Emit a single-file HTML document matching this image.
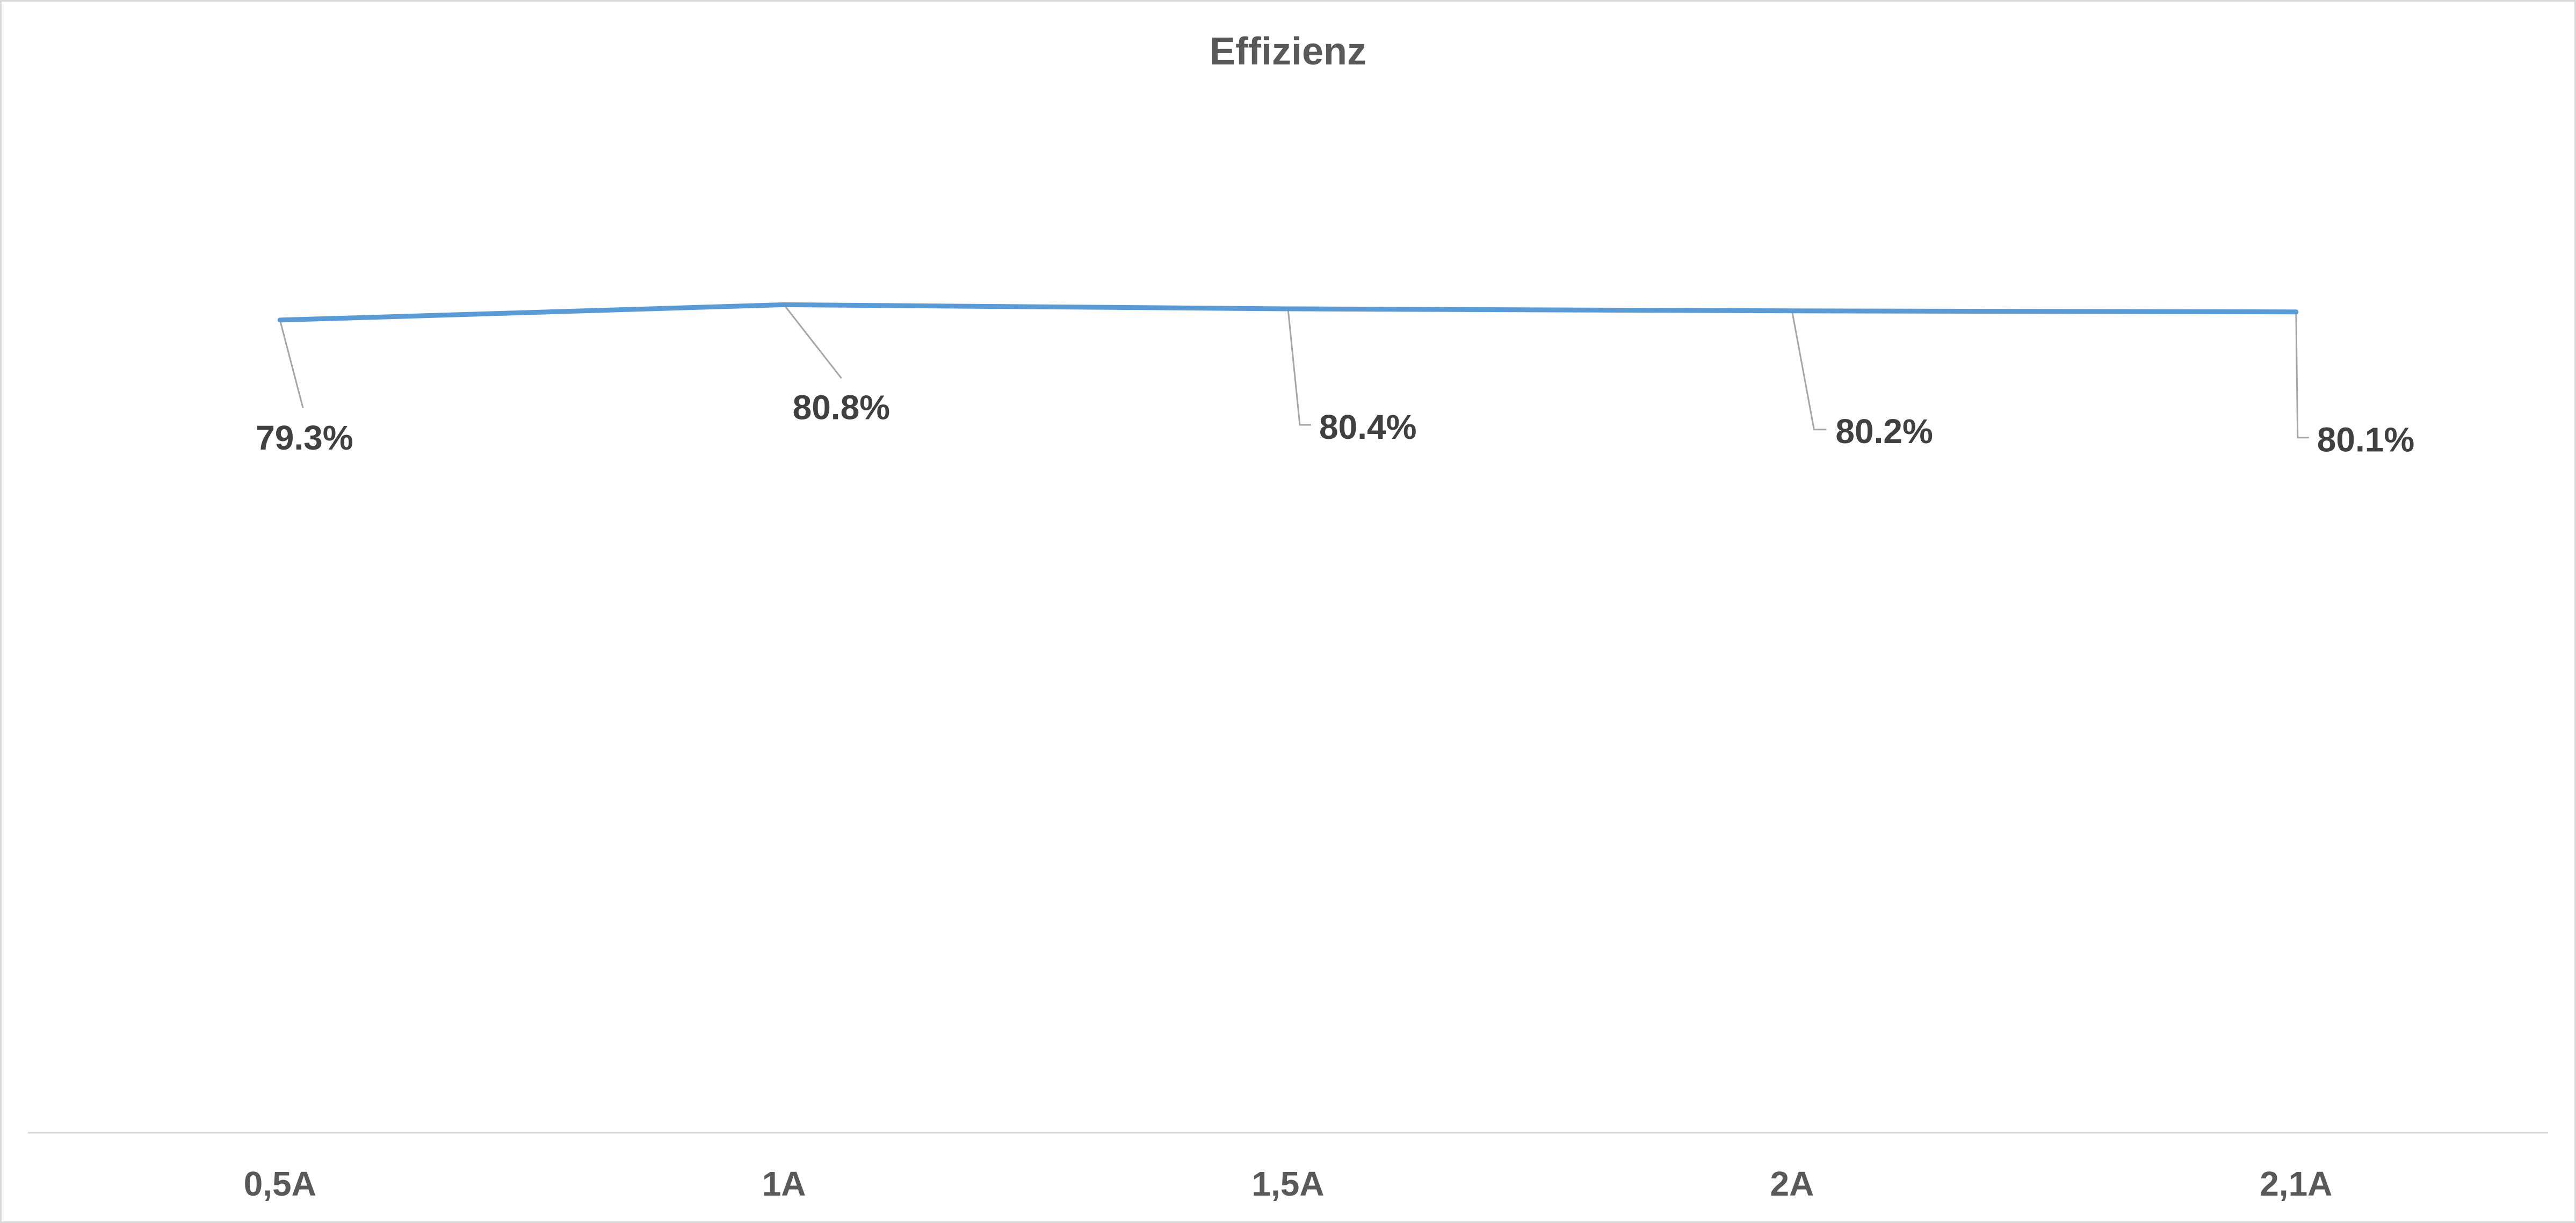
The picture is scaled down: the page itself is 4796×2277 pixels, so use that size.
<!DOCTYPE html>
<html><head><meta charset="utf-8"><title>Effizienz</title>
<style>
html,body{margin:0;padding:0;background:#fff;}
svg{display:block;font-family:"Liberation Sans",Arial,sans-serif;}
</style></head>
<body>
<svg id="chart" width="4796" height="2277" viewBox="0 0 4796 2277" xmlns="http://www.w3.org/2000/svg">
  <rect x="1.5" y="1.5" width="4793" height="2274" fill="#fff" stroke="#d9d9d9" stroke-width="3"/>
  <text x="2398" y="120" text-anchor="middle" font-size="72" font-weight="bold" fill="#595959">Effizienz</text>
  <line x1="52" y1="2109" x2="4744" y2="2109" stroke="#d9d9d9" stroke-width="3"/>
  <g id="xlabels"></g>
  <g id="leaders"></g>
  <g id="series"></g>
  <g id="vlabels"></g>
</svg>
<script>
const categories = ["0,5A", "1A", "1,5A", "2A", "2,1A"];
const efficiency = [79.3, 80.8, 80.4, 80.2, 80.1];
const yMin = 0;
const yMax = 100;

const NS = "http://www.w3.org/2000/svg";
const plotLeft = 52, plotRight = 4744, plotTop = 202, plotBottom = 2105;
function xPos(i){ const w = (plotRight - plotLeft) / categories.length; return plotLeft + w * (i + 0.5); }
function yPos(v){ return plotBottom - (v - yMin) / (yMax - yMin) * (plotBottom - plotTop); }
// label layout offsets relative to point (styling, not data)
const leaderEnd = [[43,164],[107,137],[22,216],[41,221],[3,234]];
const elbow = [0,0,21,23,21];
const labelOff = [[-45,241],[16,213],[58,242],[81,246],[39,260]];

const xl = document.getElementById('xlabels');
categories.forEach((c,i)=>{
  const t = document.createElementNS(NS,'text');
  
  
  t.setAttribute('x', xPos(i)); t.setAttribute('y', 2226);
  t.setAttribute('text-anchor','middle'); t.setAttribute('font-size','64');
  t.setAttribute('font-weight','bold'); t.setAttribute('fill','#595959');
  t.textContent = c; xl.appendChild(t);
});

const ld = document.getElementById('leaders');
const vl = document.getElementById('vlabels');
efficiency.forEach((v,i)=>{
  const px = xPos(i), py = yPos(v);
  const ex = px + leaderEnd[i][0], ey = py + leaderEnd[i][1];
  const p = document.createElementNS(NS,'polyline');
  
  
  let pts = px+','+py+' '+ex+','+ey;
  if (elbow[i]) pts += ' '+(ex+elbow[i])+','+ey;
  p.setAttribute('points', pts);
  p.setAttribute('fill','none'); p.setAttribute('stroke','#a6a6a6'); p.setAttribute('stroke-width','3');
  ld.appendChild(p);
  const t = document.createElementNS(NS,'text');
  
  
  t.setAttribute('x', px + labelOff[i][0]); t.setAttribute('y', py + labelOff[i][1]);
  t.setAttribute('font-size','64'); t.setAttribute('font-weight','bold'); t.setAttribute('fill','#404040');
  t.textContent = v.toFixed(1) + '%';
  vl.appendChild(t);
});

const s = document.getElementById('series');
const line = document.createElementNS(NS,'polyline');


line.setAttribute('points', efficiency.map((v,i)=>xPos(i)+','+yPos(v)).join(' '));
line.setAttribute('fill','none'); line.setAttribute('stroke','#5b9bd5');
line.setAttribute('stroke-width','9'); line.setAttribute('stroke-linecap','round'); line.setAttribute('stroke-linejoin','round');
s.appendChild(line);
</script>
</body></html>
